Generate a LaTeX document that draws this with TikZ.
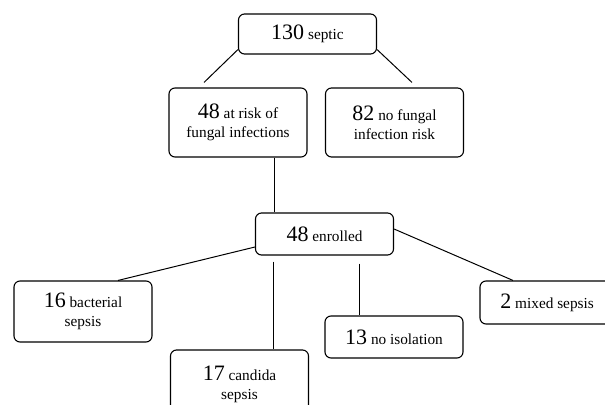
\documentclass[tikz,border=0pt]{standalone}
\usepackage{fontspec}
\setmainfont{Liberation Serif}
\usetikzlibrary{calc}
\def\boxwd{69pt}
\def\bignum#1{{\fontsize{11}{13}\selectfont #1}}
\tikzset{
  flowbox/.style={draw, rounded corners=3pt, line width=0.55pt, align=center,
    minimum width=\boxwd, inner sep=1pt,
    font=\fontsize{7.65}{9.5}\selectfont},
  link/.style={line width=0.5pt}
}

\begin{document}
\begin{tikzpicture}[x=0.5pt,y=-0.5pt]
\useasboundingbox (0,0) rectangle (605,405);
\clip (0,0) rectangle (605,405);
% boxes: name/x/y/height/count/text
\foreach \name/\cx/\cy/\bh/\num/\txt in {
	septic/307.5/34/40/130/septic,
	risk/238/122.5/69/48/{at risk of\\fungal infections},
	norisk/394.5/122.5/69/82/{no fungal\\infection risk},
	enrolled/324.5/234/42/48/enrolled,
	bacterial/83/311.5/61/16/{bacterial\\sepsis},
	candida/239.5/384.5/69/17/{candida\\sepsis},
	noiso/394/337/42/13/{no isolation},
	mixed/549/302.5/43/2/{mixed sepsis}
} {
\node[flowbox, minimum height={\bh*0.5pt}] (\name) at (\cx,\cy) {\bignum{\num} \txt};
};
% first split
\draw[link] ($(septic.south west)+(0,-5)$) -- ($(risk.north)+(-34,-5)$);
\draw[link] ($(septic.south east)+(0,-5)$) -- ($(norisk.north)+(17.5,-5)$);
% down to enrolled
\coordinate (trunk) at ($(risk.south)+(36,0)$);
\draw[link] (trunk) -- (trunk |- enrolled.north);
% outcomes
\draw[link] ($(enrolled.west)+(0,13)$) -- ($(bacterial.north)+(35,0)$);
\coordinate (cstem) at ($(candida.north)+(33.5,0)$);
\draw[link] ($(cstem |- enrolled.south)+(0,6)$) -- (cstem);
\coordinate (nstem) at ($(noiso.north)+(-35,0)$);
\draw[link] ($(nstem |- enrolled.south)+(0,8)$) -- (nstem);
\draw[link] ($(enrolled.east)+(0,-5)$) -- ($(mixed.north)+(-36,0)$);
\end{tikzpicture}
\end{document}
